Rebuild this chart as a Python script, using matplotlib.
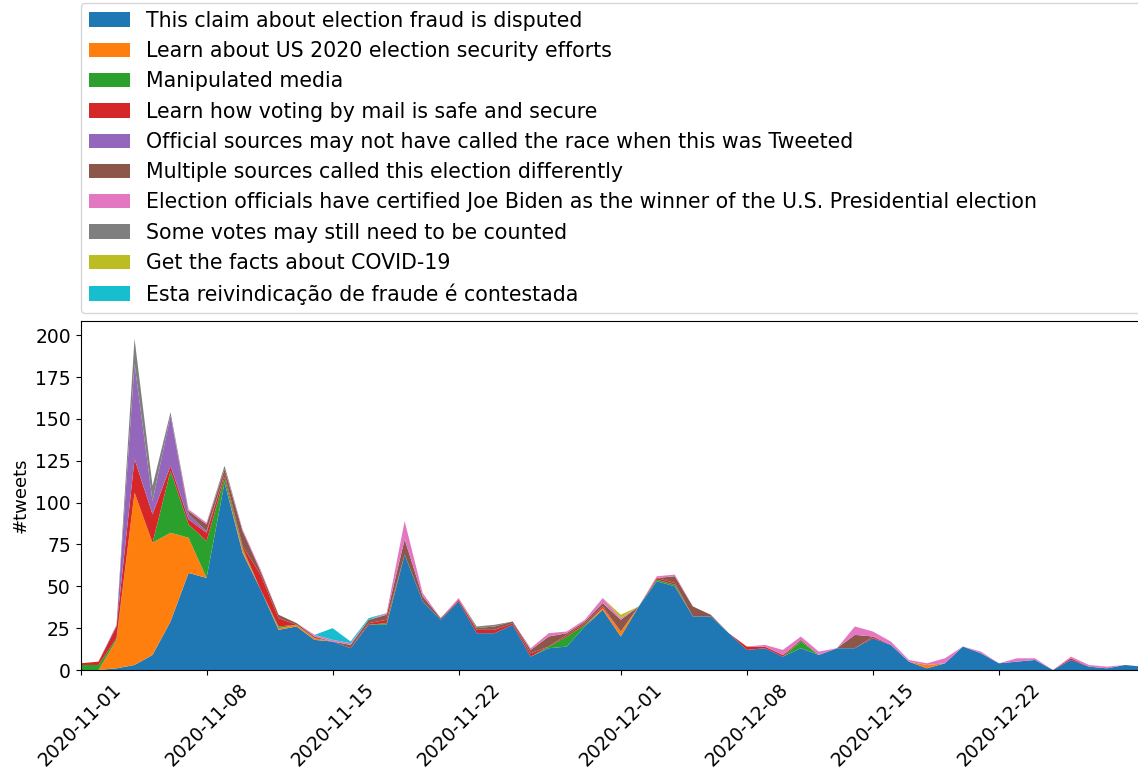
import numpy as np
import pandas as pd
import matplotlib
matplotlib.use('Agg')
import matplotlib.pyplot as plt
import matplotlib.dates as mdates

# daily counts of tweets per label, 2020-11-01 .. 2020-12-30
dates = pd.date_range('2020-11-01', '2020-12-30', freq='D')

labels = [
    'This claim about election fraud is disputed',
    'Learn about US 2020 election security efforts',
    'Manipulated media',
    'Learn how voting by mail is safe and secure',
    'Official sources may not have called the race when this was Tweeted',
    'Multiple sources called this election differently',
    'Election officials have certified Joe Biden as the winner of the U.S. Presidential election',
    'Some votes may still need to be counted',
    'Get the facts about COVID-19',
    'Esta reivindicação de fraude é contestada',
]

disputed = [0, 0, 1, 3, 9, 29, 58, 55, 112, 70,
            48, 24, 26, 18, 17, 13, 27, 27, 69, 41,
            30, 41, 22, 22, 27, 8, 13, 14, 26, 36,
            20, 38, 53, 50, 32, 32, 22, 12, 13, 8,
            13, 9, 13, 13, 19, 15, 5, 1, 4, 14,
            10, 4, 5, 6, 0, 6, 2, 1, 3, 2]
security = [0, 0, 17, 103, 67, 53, 21, 0, 0, 2,
            0, 1, 1, 1, 0, 0, 0, 0, 0, 0,
            0, 0, 0, 0, 0, 0, 0, 0, 0, 1,
            3, 0, 0, 0, 0, 0, 0, 0, 0, 0,
            0, 0, 0, 0, 0, 0, 0, 2, 0, 0,
            0, 0, 0, 0, 0, 0, 0, 0, 0, 0]
manipulated = [3, 3, 1, 0, 0, 37, 8, 22, 3, 1,
               0, 1, 0, 0, 0, 0, 0, 1, 0, 0,
               0, 0, 0, 0, 0, 0, 1, 6, 1, 0,
               0, 0, 1, 1, 0, 0, 0, 0, 0, 0,
               4, 0, 0, 0, 0, 0, 0, 0, 0, 0,
               0, 0, 0, 0, 0, 0, 0, 0, 0, 0]
mail = [1, 2, 7, 20, 17, 3, 3, 5, 2, 1,
        9, 5, 0, 0, 0, 0, 1, 2, 0, 0,
        0, 1, 2, 2, 1, 2, 0, 1, 1, 1,
        0, 0, 1, 1, 0, 0, 0, 2, 1, 1,
        0, 0, 0, 0, 1, 0, 0, 0, 0, 0,
        0, 0, 0, 0, 0, 1, 0, 0, 0, 0]
not_called = [0, 0, 1, 57, 8, 30, 3, 1, 0, 0,
              0, 0, 0, 0, 0, 0, 0, 0, 0, 0,
              0, 0, 0, 0, 0, 0, 0, 0, 0, 0,
              0, 0, 0, 0, 0, 0, 0, 0, 0, 0,
              0, 0, 0, 0, 0, 0, 0, 0, 0, 0,
              0, 0, 0, 0, 0, 0, 0, 0, 0, 0]
multiple = [0, 0, 0, 0, 0, 0, 2, 4, 3, 9,
            2, 2, 1, 1, 0, 2, 2, 3, 9, 3,
            1, 0, 1, 2, 1, 2, 6, 1, 1, 2,
            7, 0, 0, 4, 6, 1, 0, 0, 0, 0,
            1, 0, 0, 8, 0, 0, 0, 0, 0, 0,
            0, 0, 0, 0, 0, 0, 0, 0, 0, 0]
certified = [0, 0, 0, 0, 0, 0, 1, 1, 0, 1,
             1, 0, 0, 1, 1, 1, 0, 1, 11, 2,
             0, 1, 0, 0, 0, 1, 2, 1, 1, 3,
             1, 0, 1, 1, 0, 0, 0, 0, 1, 3,
             2, 2, 0, 5, 3, 2, 1, 1, 3, 0,
             1, 0, 2, 1, 0, 1, 1, 1, 0, 0]
counting = [0, 0, 0, 15, 9, 2, 0, 0, 2, 0,
            0, 0, 0, 0, 0, 0, 0, 0, 0, 0,
            0, 0, 1, 1, 0, 0, 0, 0, 0, 0,
            0, 0, 0, 0, 0, 0, 0, 0, 0, 0,
            0, 0, 0, 0, 0, 0, 0, 0, 0, 0,
            0, 0, 0, 0, 0, 0, 0, 0, 0, 0]
covid = [0, 0, 0, 0, 0, 0, 0, 0, 0, 0,
         0, 0, 0, 0, 0, 0, 0, 0, 0, 0,
         0, 0, 0, 0, 0, 0, 0, 0, 0, 0,
         2, 0, 0, 0, 0, 0, 0, 0, 0, 0,
         0, 0, 0, 0, 0, 0, 0, 0, 0, 0,
         0, 0, 0, 0, 0, 0, 0, 0, 0, 0]
contestada = [0, 0, 0, 0, 0, 0, 0, 0, 0, 0,
              0, 0, 0, 0, 7, 1, 1, 0, 0, 0,
              0, 0, 0, 0, 0, 0, 0, 0, 0, 0,
              0, 0, 0, 0, 0, 0, 0, 0, 0, 0,
              0, 0, 0, 0, 0, 0, 0, 0, 0, 0,
              0, 0, 0, 0, 0, 0, 0, 0, 0, 0]

series = [disputed, security, manipulated, mail, not_called,
          multiple, certified, counting, covid, contestada]
colors = plt.rcParams['axes.prop_cycle'].by_key()['color'][:10]

fig = plt.figure(figsize=(11.38, 7.69), dpi=100)
ax = fig.add_axes([80.5 / 1138, 1 - 670 / 769, 1062.5 / 1138, 349 / 769])

ax.stackplot(dates, *series, labels=labels, colors=colors, linewidth=0)
ax.set_xlim(dates[0], dates[-1])
ax.set_ylim(0, 208.5)
ax.set_yticks(range(0, 201, 25))
ax.set_ylabel('#tweets', fontsize=13)
ax.tick_params(labelsize=13.5)

ax.xaxis.set_major_locator(mdates.DayLocator(bymonthday=[1, 8, 15, 22]))
ax.xaxis.set_major_formatter(mdates.DateFormatter('%Y-%m-%d'))
plt.setp(ax.get_xticklabels(), rotation=45)

ax.legend(bbox_to_anchor=(0, 1 + 8 / 349, 1, 0.1), loc='lower left',
          mode='expand', borderaxespad=0, fontsize=14.8)

fig.savefig('out.png', dpi=100)
